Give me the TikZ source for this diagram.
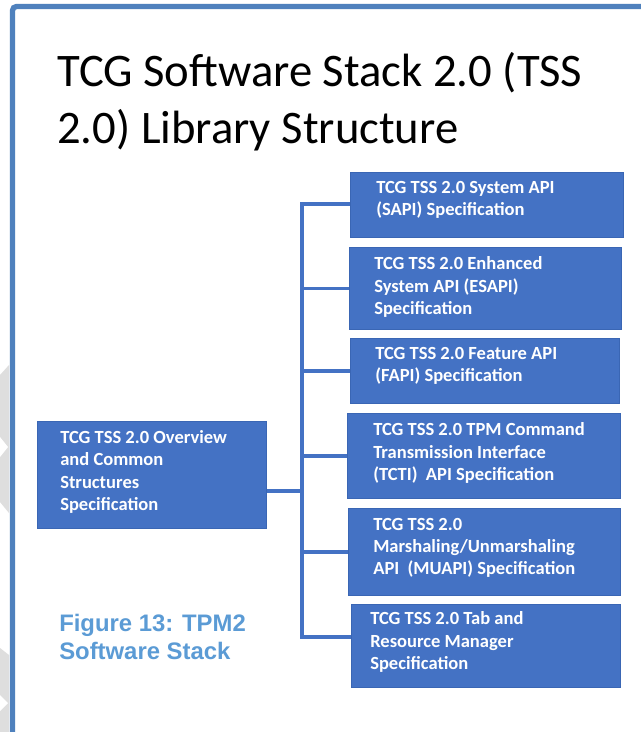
\documentclass[tikz,border=0pt]{standalone}
\usepackage{fontspec}
\setmainfont{Carlito}
\newfontfamily\capfont{Liberation Sans}
\definecolor{boxblue}{HTML}{4472C4}
\definecolor{boxedge}{HTML}{3A66B4}
\definecolor{frameblue}{HTML}{4F81BD}
\definecolor{capblue}{HTML}{5B9BD5}
\definecolor{wmgray}{HTML}{DEDEDE}
\begin{document}
\begin{tikzpicture}[x=0.75pt,y=-0.75pt,
  specbox/.style={rectangle, fill=boxblue, draw=boxedge, line width=0.6pt, anchor=north west, inner sep=0pt},
  spectext/.style={anchor=west, align=left, inner sep=0pt, text=white, font=\bfseries\fontsize{13.9}{16.6}\selectfont},
  titletext/.style={anchor=base west, inner sep=0pt, text=black, font=\fontsize{35}{42}\selectfont},
  captext/.style={anchor=base west, inner sep=0pt, text=capblue, font=\capfont\bfseries\fontsize{17.9}{21}\selectfont},
  link/.style={draw=boxblue, line width=2.5pt}]
\useasboundingbox (0,0) rectangle (641,732);
\fill[white] (0,0) rectangle (641,732);
% watermark fragments
\fill[wmgray] (0,375) -- (9,365) -- (9,513) -- (0,502) -- cycle;
\fill[white] (0,437) -- (8,447) -- (0,457) -- cycle;
\fill[wmgray] (0,648) -- (9,655) -- (9,732) -- (0,732) -- cycle;
\fill[white] (0,695) -- (8,703) -- (0,711) -- cycle;
% frame
\draw[frameblue, line width=4pt, rounded corners=3pt] (645,6.5) -- (12.5,6.5) -- (12.5,740);
% title
\node[titletext] (t1) at (57,86) {TCG Software Stack 2.0 (TSS};
\node[titletext] (t2) at (57,143) {2.0) Library Structure};
% boxes
\node[specbox, minimum width=204.75pt, minimum height=48.75pt] (sapi) at (350,172) {};
\node[specbox, minimum width=204pt, minimum height=61.5pt] (esapi) at (349,247) {};
\node[specbox, minimum width=201.75pt, minimum height=48.75pt] (fapi) at (350,338) {};
\node[specbox, minimum width=204.75pt, minimum height=63.75pt] (tcti) at (347,413) {};
\node[specbox, minimum width=204pt, minimum height=65.25pt] (muapi) at (348,508) {};
\node[specbox, minimum width=201.75pt, minimum height=62.25pt] (tab) at (351,604) {};
\node[specbox, minimum width=171.75pt, minimum height=80.25pt] (ovw) at (37,421) {};
% box texts
\node[spectext] (sapit) at (376,200) {TCG TSS 2.0 System API\\(SAPI) Specification};
\node[spectext] (esapit) at (374,287) {TCG TSS 2.0 Enhanced\\System API (ESAPI)\\Specification};
\node[spectext] (fapit) at (375,366) {TCG TSS 2.0 Feature API\\(FAPI) Specification};
\node[spectext] (tctit) at (373,453) {TCG TSS 2.0 TPM Command\\Transmission Interface\\(TCTI)\ \ API Specification};
\node[spectext] (muapit) at (373,548) {TCG TSS 2.0\\Marshaling/Unmarshaling\\API\ \ (MUAPI) Specification};
\node[spectext] (tabt) at (370,642) {TCG TSS 2.0 Tab and\\Resource Manager\\Specification};
\node[spectext] (ovwt) at (60,472) {TCG TSS 2.0 Overview\\and Common\\Structures\\Specification};
% connectors
\coordinate (bustop) at (302,204);
\coordinate (busbot) at (302,637);
\coordinate (join) at (302,491);
\draw[link] (sapi.west |- bustop) -- (bustop) -- (busbot) -- (tab.west |- busbot);
\draw[link] (esapi.west) -- (esapi.west -| join);
\draw[link] (fapi.west) -- (fapi.west -| join);
\draw[link] (tcti.west) -- (tcti.west -| join);
\draw[link] (muapi.west) -- (muapi.west -| join);
\draw[link] (ovw.east |- join) -- (join);
% caption
\node[captext] (cap1) at (59,631) {Figure 13: TPM2};
\node[captext] (cap2) at (59,659) {Software Stack};
\end{tikzpicture}
\end{document}
